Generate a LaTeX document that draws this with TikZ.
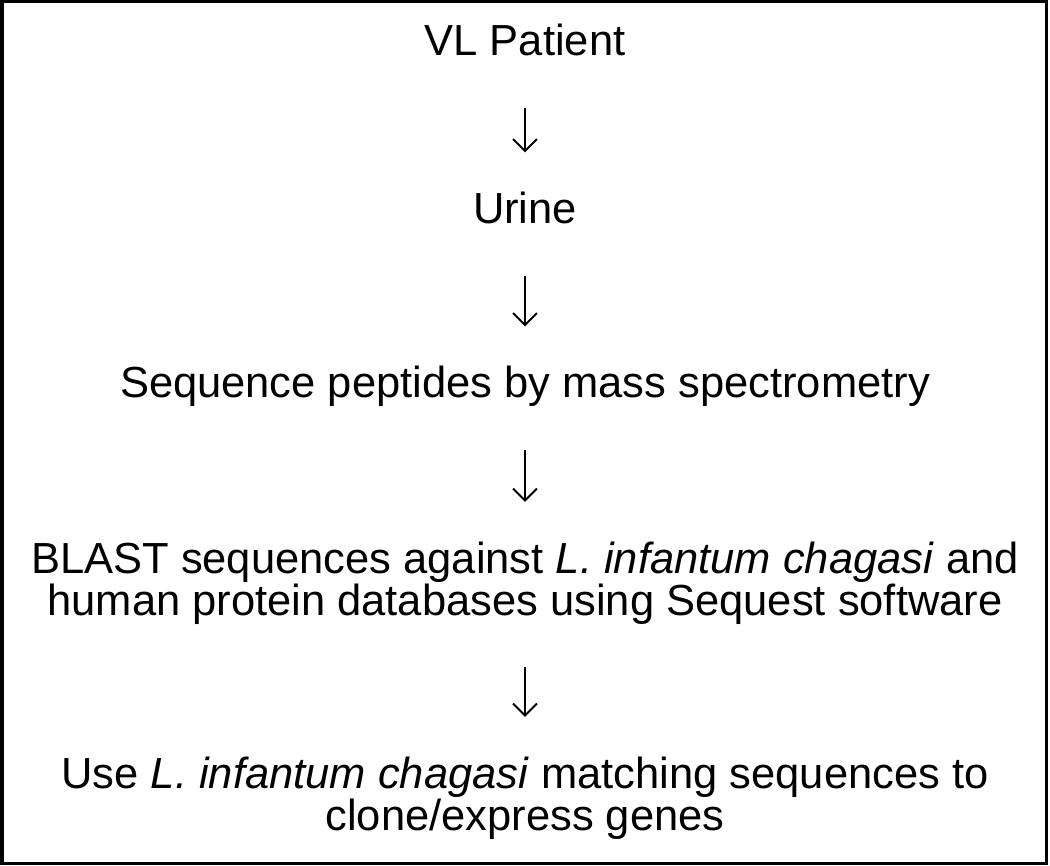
\documentclass[tikz,border=0pt]{standalone}
\usepackage{fontspec}
\setmainfont{Liberation Sans}
\usetikzlibrary{positioning,arrows.meta}

\begin{document}
\begin{tikzpicture}[x=1pt,y=1pt,
	stepnode/.style={inner sep=0pt,outer sep=0pt,align=center,anchor=base,
		font=\fontsize{43.5}{41.5}\selectfont},
	flow/.style={line width=2pt,-{Straight Barb[length=12pt,width=24pt,line width=2pt]},
		shorten <=52pt,shorten >=40pt}]
	\useasboundingbox (0,0) rectangle (1050,-866);
	%% 外框
	\draw[line width=3.5pt] (1.75,-1.75) rectangle (1046.5,-863.5);
	%% 步骤
	\node[stepnode] (vl) at (525,-56) {VL Patient};
	\node[stepnode] (urine) at (525,-224) {Urine};
	\node[stepnode] (seq) at (525,-398) {Sequence peptides by mass spectrometry};
	\node[stepnode] (blast) at (525,-615) {BLAST sequences against \emph{L. infantum chagasi} and\\
		human protein databases using Sequest software};
	\node[stepnode] (use) at (525,-830) {Use \emph{L. infantum chagasi} matching sequences to\\
		clone/express genes};
	% 箭头
	\draw[flow] (vl.base) -- (urine.north);
	\draw[flow] (urine.base) -- (seq.north);
	\draw[flow] (seq.base) -- (blast.north);
	\draw[flow] (blast.base) -- (use.north);
\end{tikzpicture}
\end{document}
